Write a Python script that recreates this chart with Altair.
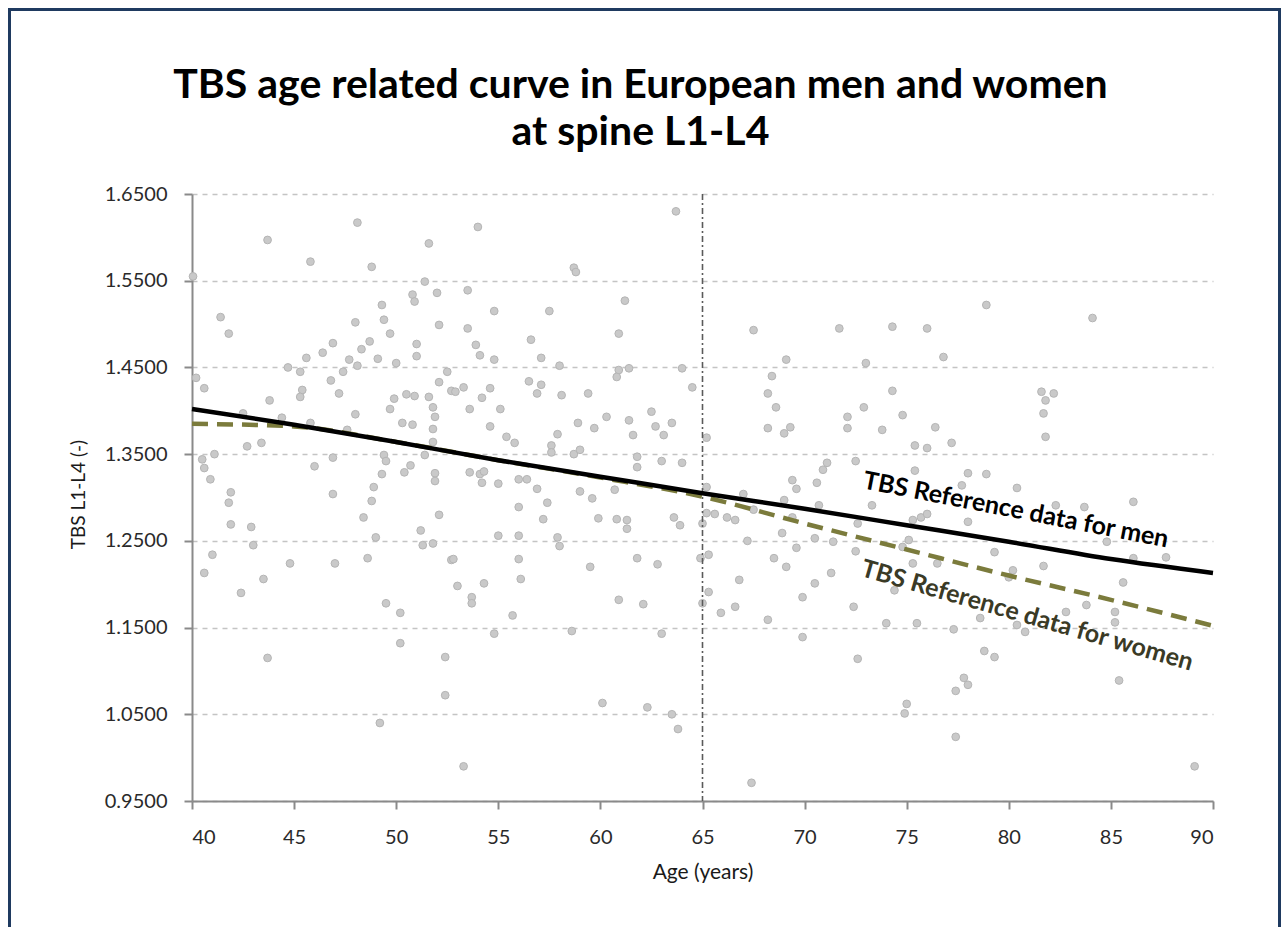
import altair as alt
import pandas as pd

# Individual TBS measurements (age in years, TBS L1-L4)
ages = [
    41.4, 41.8, 40.2, 40.6, 42.5, 42.7, 43.4, 40.5, 40.6, 40.9, 41.1, 41.9, 41.8, 41.9, 42.9, 43.0,
    41.0, 43.8, 44.4, 44.7, 45.3, 45.4, 45.3, 45.6, 45.8, 46.0, 46.4, 46.9, 46.8, 47.2, 46.9, 46.9,
    44.8, 47.0, 48.0, 48.3, 48.7, 47.7, 47.4, 48.1, 48.0, 47.6, 49.3, 49.4, 49.7, 49.1, 50.0, 50.5,
    50.9, 51.6, 49.7, 49.9, 50.3, 50.8, 49.4, 49.5, 49.3, 48.9, 48.8, 48.4, 49.0, 48.6, 50.4, 50.7,
    51.4, 51.8, 51.9, 51.8, 51.8, 52.0, 52.1, 50.8, 50.9, 51.0, 51.0, 52.1, 52.5, 52.7, 51.9, 51.9,
    52.1, 51.2, 51.3, 51.8, 52.7, 40.05, 43.7, 45.8, 48.1, 48.8, 51.4, 51.6,
    53.5, 54.8, 57.5, 61.2, 53.5, 56.6, 60.9, 53.9, 54.1, 54.8, 57.1, 58.0, 60.9, 61.4, 60.8, 64.0,
    64.5, 52.9, 53.3, 54.6, 54.2, 53.6, 55.1, 56.5, 57.1, 56.9, 58.1, 59.4, 54.6, 55.4, 55.8, 57.9,
    57.6, 57.6, 58.9, 59.7, 60.3, 61.4, 62.5, 62.7, 63.1, 63.5, 61.6, 58.7, 59.0, 61.8, 61.8, 63.0,
    64.0, 65.2, 53.6, 54.1, 54.3, 54.2, 55.0, 56.0, 56.4, 56.9, 57.4, 56.0, 57.2, 59.0, 59.6, 60.7,
    59.9, 60.8, 61.3, 61.3, 63.6, 63.9, 55.0, 56.0, 57.9, 58.0, 52.8, 56.0, 59.5, 61.8, 62.8, 65.0,
    65.3, 63.7, 54.0, 58.7, 58.8, 67.5, 69.1, 68.4, 68.2, 68.6, 68.2, 69.0, 69.3,
    71.7, 74.3, 76.0, 73.0, 76.8, 74.3, 72.9, 74.8, 72.1, 72.1, 73.8, 76.4, 77.2, 75.4, 76.0, 72.5,
    71.1, 70.9, 75.4, 78.0, 69.4, 69.6, 70.6, 73.3, 65.2, 67.0, 69.0, 65.2, 65.6, 66.2, 66.6, 67.5,
    69.4, 70.7, 75.3, 75.7, 68.9, 67.2, 70.5, 71.4, 69.6, 72.5, 74.8, 75.1, 68.5, 69.1, 66.8, 70.5,
    71.3, 76.5, 75.3, 78.9, 84.1, 81.6, 82.2, 81.8, 81.7, 81.8, 78.9, 80.4, 77.7, 86.1, 82.3, 83.7,
    78.0, 84.8, 79.3, 86.1, 87.7, 81.7, 80.2, 80.0, 85.6, 76.0, 72.6, 69.9, 74.4, 72.4, 74.0, 75.5,
    77.3, 78.6, 80.4, 80.8, 82.8, 83.8, 85.2, 85.2, 69.9, 72.6, 78.8, 79.3, 77.8, 78.0, 77.4, 85.4,
    75.0, 74.9, 77.4, 89.1, 53.0, 54.3, 53.7, 53.7, 56.1, 55.7, 54.8, 58.6, 60.9, 62.1, 63.0, 52.4,
    52.4, 60.1, 62.3, 63.5, 63.8, 53.3, 67.4, 50.2, 50.2, 64.9, 65.3, 65.0, 65.9, 66.6, 68.2,
    40.6, 42.4, 43.5, 43.7, 49.5, 49.2,
]
tbs_values = [
    1.508, 1.489, 1.438, 1.426, 1.397, 1.359, 1.363, 1.344, 1.334, 1.321, 1.350, 1.306, 1.294, 1.269, 1.266, 1.245,
    1.234, 1.412, 1.392, 1.450, 1.445, 1.424, 1.416, 1.461, 1.386, 1.336, 1.467, 1.478, 1.435, 1.420, 1.346, 1.304,
    1.224, 1.224, 1.502, 1.471, 1.480, 1.459, 1.445, 1.452, 1.396, 1.378, 1.522, 1.505, 1.489, 1.460, 1.455, 1.419,
    1.417, 1.416, 1.402, 1.414, 1.386, 1.384, 1.349, 1.342, 1.327, 1.312, 1.296, 1.277, 1.254, 1.230, 1.329, 1.337,
    1.349, 1.404, 1.393, 1.379, 1.364, 1.536, 1.499, 1.534, 1.526, 1.477, 1.463, 1.433, 1.445, 1.423, 1.328, 1.319,
    1.280, 1.262, 1.245, 1.247, 1.228, 1.555, 1.597, 1.572, 1.617, 1.566, 1.549, 1.593,
    1.539, 1.515, 1.515, 1.527, 1.495, 1.482, 1.489, 1.476, 1.464, 1.459, 1.461, 1.452, 1.447, 1.449, 1.439, 1.449,
    1.427, 1.422, 1.427, 1.426, 1.415, 1.402, 1.402, 1.434, 1.430, 1.420, 1.418, 1.420, 1.382, 1.370, 1.363, 1.373,
    1.360, 1.352, 1.386, 1.380, 1.393, 1.389, 1.399, 1.382, 1.372, 1.386, 1.372, 1.350, 1.355, 1.347, 1.335, 1.342,
    1.340, 1.369, 1.329, 1.327, 1.330, 1.317, 1.316, 1.321, 1.321, 1.310, 1.294, 1.289, 1.275, 1.307, 1.299, 1.309,
    1.276, 1.275, 1.274, 1.264, 1.277, 1.268, 1.256, 1.256, 1.254, 1.244, 1.229, 1.229, 1.220, 1.230, 1.223, 1.270,
    1.234, 1.630, 1.612, 1.565, 1.560, 1.493, 1.459, 1.440, 1.420, 1.404, 1.380, 1.374, 1.381,
    1.495, 1.497, 1.495, 1.455, 1.462, 1.423, 1.404, 1.395, 1.393, 1.380, 1.378, 1.381, 1.363, 1.360, 1.357, 1.342,
    1.340, 1.332, 1.331, 1.328, 1.320, 1.310, 1.317, 1.291, 1.312, 1.304, 1.297, 1.282, 1.281, 1.277, 1.274, 1.286,
    1.277, 1.291, 1.274, 1.277, 1.259, 1.250, 1.253, 1.249, 1.242, 1.238, 1.243, 1.251, 1.230, 1.220, 1.205, 1.201,
    1.213, 1.224, 1.224, 1.522, 1.507, 1.422, 1.420, 1.412, 1.397, 1.370, 1.327, 1.311, 1.314, 1.295, 1.291, 1.289,
    1.272, 1.249, 1.237, 1.230, 1.231, 1.221, 1.216, 1.208, 1.202, 1.281, 1.270, 1.185, 1.193, 1.174, 1.155, 1.155,
    1.148, 1.161, 1.153, 1.145, 1.168, 1.176, 1.168, 1.156, 1.139, 1.114, 1.123, 1.116, 1.092, 1.084, 1.077, 1.089,
    1.062, 1.051, 1.024, 0.990, 1.198, 1.201, 1.185, 1.178, 1.206, 1.164, 1.143, 1.146, 1.182, 1.177, 1.143, 1.116,
    1.072, 1.063, 1.058, 1.050, 1.033, 0.990, 0.971, 1.167, 1.132, 1.230, 1.191, 1.178, 1.167, 1.174, 1.159,
    1.213, 1.190, 1.206, 1.115, 1.178, 1.040,
]

# Reference curves
curve_ages = [40, 45, 50, 55, 60, 65, 70, 75, 80, 85, 90]
men_ref = [1.402, 1.384, 1.364, 1.343, 1.324, 1.305, 1.287, 1.268, 1.249, 1.229, 1.213]
women_ref = [1.385, 1.382, 1.364, 1.343, 1.323, 1.301, 1.270, 1.240, 1.210, 1.182, 1.152]

y_ticks = [0.95, 1.05, 1.15, 1.25, 1.35, 1.45, 1.55, 1.65]
x_ticks = [40, 45, 50, 55, 60, 65, 70, 75, 80, 85, 90]

FONT = "Lato"

points_df = pd.DataFrame({"age": ages, "tbs": tbs_values})
men_df = pd.DataFrame({"age": curve_ages, "tbs": men_ref})
women_df = pd.DataFrame({"age": curve_ages, "tbs": women_ref})

x_scale = alt.Scale(domain=[40, 90], nice=False, zero=False)
y_scale = alt.Scale(domain=[0.95, 1.65], nice=False, zero=False)

x_enc = alt.X(
    "age:Q", scale=x_scale,
    axis=alt.Axis(
        title="Age (years)", values=x_ticks, format="d", grid=False,
        domainColor="#8a8a8a", domainWidth=2, tickColor="#8a8a8a", tickWidth=2, tickSize=8,
        labelFont=FONT, labelFontSize=20, labelColor="#2a2a2a", labelPadding=18,
        titleFont=FONT, titleFontSize=21, titleFontWeight="normal", titleColor="#1a1a1a",
        titleY=71, titleBaseline="middle",
    ),
)
y_enc = alt.Y(
    "tbs:Q", scale=y_scale,
    axis=alt.Axis(
        title="TBS L1-L4 (-)", values=y_ticks, format=".4f",
        grid=True, gridColor="#c4c4c4", gridDash=[5, 5], gridWidth=1.5,
        domainColor="#8a8a8a", domainWidth=2, tickColor="#8a8a8a", tickWidth=2, tickSize=8,
        labelFont=FONT, labelFontSize=20, labelColor="#2a2a2a", labelPadding=17,
        titleFont=FONT, titleFontSize=19, titleFontWeight="normal", titleColor="#1a1a1a",
        titleX=-114, titleY=300, titleBaseline="middle", titleAlign="center",
    ),
)

scatter = alt.Chart(points_df).mark_circle(
    size=60, color="#c9c9c9", opacity=1, stroke="#b5b5b5", strokeWidth=1
).encode(x=x_enc, y=y_enc)

age65 = alt.Chart(pd.DataFrame({"age": [65]})).mark_rule(
    color="#5a5a5a", strokeWidth=1.6, strokeDash=[6, 3, 2, 3]
).encode(x=alt.X("age:Q", scale=x_scale))

women_line = alt.Chart(women_df).mark_line(
    color="#7b7b3c", strokeWidth=4.5, strokeDash=[16, 9], interpolate="monotone"
).encode(x=alt.X("age:Q", scale=x_scale), y=alt.Y("tbs:Q", scale=y_scale))

men_line = alt.Chart(men_df).mark_line(
    color="#000000", strokeWidth=4.5, interpolate="monotone"
).encode(x=alt.X("age:Q", scale=x_scale), y=alt.Y("tbs:Q", scale=y_scale))

men_label = alt.Chart(pd.DataFrame({"age": [80.35], "tbs": [1.2856], "t": ["TBS Reference data for men"]})).mark_text(
    font=FONT, fontSize=25, fontWeight="bold", color="#000000", angle=11, align="center", baseline="middle"
).encode(x=alt.X("age:Q", scale=x_scale), y=alt.Y("tbs:Q", scale=y_scale), text="t:N")

women_label = alt.Chart(pd.DataFrame({"age": [80.9], "tbs": [1.164], "t": ["TBS Reference data for women"]})).mark_text(
    font=FONT, fontSize=25, fontWeight="bold", color="#3a3a26", angle=16, align="center", baseline="middle"
).encode(x=alt.X("age:Q", scale=x_scale), y=alt.Y("tbs:Q", scale=y_scale), text="t:N")

# Navy frame around the whole figure
frame = alt.Chart(pd.DataFrame({"k": [0]})).mark_rect(
    filled=False, stroke="#1f3a60", strokeWidth=3, clip=False
).encode(x=alt.value(-182.5), x2=alt.value(1087.5), y=alt.value(-184.5), y2=alt.value(745))

chart = alt.layer(
    scatter, age65, women_line, men_line, men_label, women_label, frame
).properties(
    width=1021,
    height=607,
    padding={"left": 192, "top": 194, "right": 69, "bottom": 126},
    autosize=alt.AutoSizeParams(type="none"),
    background="white",
    title=alt.TitleParams(
        text=["TBS age related curve in European men and women", "at spine L1-L4"],
        font=FONT, fontSize=41, fontWeight="bold", color="#000000",
        anchor="middle", dx=-62, offset=0, dy=146, lineHeight=47,
    ),
).configure_view(stroke=None)

chart.save("out.html", embed_options={"renderer": "svg", "actions": False})
